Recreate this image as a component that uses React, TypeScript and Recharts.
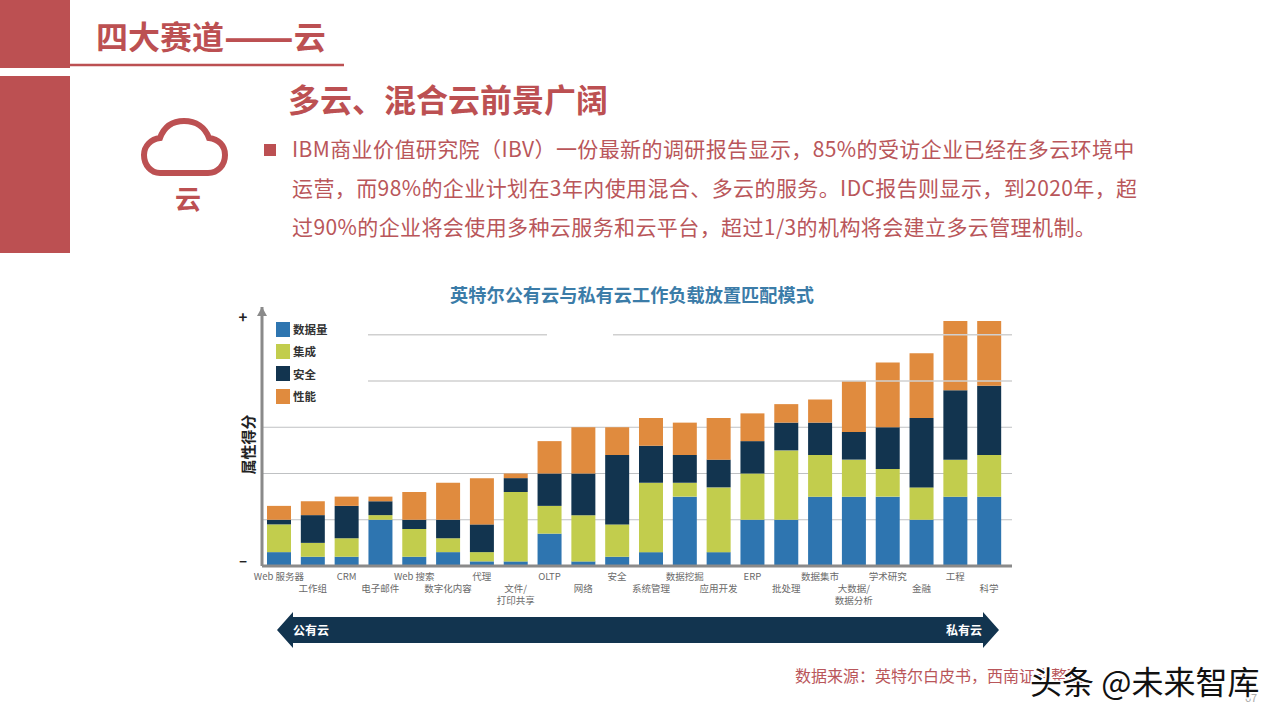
import { Bar, BarChart, CartesianGrid, Legend, ReferenceLine, XAxis, YAxis } from 'recharts';

const categories = [
  'Web 服务器', '工作组', 'CRM', '电子邮件', 'Web 搜索', '数字化内容', '代理', '文件/\n打印共享',
  'OLTP', '网络', '安全', '系统管理', '数据挖掘', '应用开发', 'ERP', '批处理',
  '数据集市', '大数据/\n数据分析', '学术研究', '金融', '工程', '科学',
];
const volume = [3, 2, 2, 10, 2, 3, 1, 1, 7, 1, 2, 3, 15, 3, 10, 10, 15, 15, 15, 10, 15, 15];
const integration = [6, 3, 4, 1, 6, 3, 2, 15, 6, 10, 7, 15, 3, 14, 10, 15, 9, 8, 6, 7, 8, 9];
const security = [1, 6, 7, 3, 2, 4, 6, 3, 7, 9, 15, 8, 6, 6, 7, 6, 7, 6, 9, 15, 15, 15];
const performance = [3, 3, 2, 1, 6, 8, 10, 1, 7, 10, 6, 6, 7, 9, 6, 4, 5, 11, 14, 14, 15, 14];

const rows = categories.map((name, i) => ({
  name,
  volume: volume[i],
  integration: integration[i],
  security: security[i],
  performance: performance[i],
}));

const RED = '#bc5052';
const TEXT_RED = '#b9565a';
const CJK = '"Noto Sans CJK SC", "Noto Sans", sans-serif';

const bodyLines = [
  'IBM商业价值研究院（IBV）一份最新的调研报告显示，85%的受访企业已经在多云环境中',
  '运营，而98%的企业计划在3年内使用混合、多云的服务。IDC报告则显示，到2020年，超',
  '过90%的企业将会使用多种云服务和云平台，超过1/3的机构将会建立多云管理机制。',
];

function CategoryTick({ x, y, payload, index }: any) {
  const lines = String(payload.value).split('\n');
  const start = y + (index % 2 === 0 ? 0 : 12);
  return (
    <text x={x} y={start} textAnchor="middle" fontSize={9.5} fill="#6a6a6a" fontFamily={CJK}>
      {lines.map((l: string, i: number) => (
        <tspan key={l} x={x} dy={i === 0 ? 0 : 12}>{l}</tspan>
      ))}
    </text>
  );
}

function ScoreTick({ x, y, payload }: any) {
  if (payload.value !== 1 && payload.value !== 53.6) return <g />;
  return (
    <text x={x - 11} y={y + 5} textAnchor="middle" fontSize={15} fontWeight={700} fill="#222" fontFamily={CJK}>
      {payload.value === 53.6 ? '+' : '–'}
    </text>
  );
}

function ScoreLabel({ viewBox }: any) {
  const cx = viewBox.x + 25;
  const cy = viewBox.y + viewBox.height / 2 + 8;
  return (
    <text
      x={cx}
      y={cy}
      transform={`rotate(-90 ${cx} ${cy})`}
      textAnchor="middle"
      dominantBaseline="central"
      fontSize={15}
      fontWeight={700}
      fill="#222"
      fontFamily={CJK}
    >
      属性得分
    </text>
  );
}

function GridLine40({ x2, y1 }: any) {
  return <line x1={368} x2={x2} y1={y1} y2={y1} stroke="#d0d0d0" strokeWidth={1.5} />;
}

function GridLine50({ x2, y1 }: any) {
  return (
    <g stroke="#d0d0d0" strokeWidth={1.5}>
      <line x1={368} x2={547} y1={y1} y2={y1} />
      <line x1={613} x2={x2} y1={y1} y2={y1} />
    </g>
  );
}

function KeyList({ payload }: any) {
  return (
    <div>
      {(payload ?? []).map((p: any) => (
        <div key={p.value} style={{ display: 'flex', alignItems: 'center', height: 22.3, fontFamily: CJK, fontSize: 11.5, fontWeight: 700, color: '#333' }}>
          <span style={{ width: 14, height: 15, background: p.color, marginRight: 3 }} />
          {p.value}
        </div>
      ))}
    </div>
  );
}

function Slide() {
  return (
    <svg width={1280} height={720} style={{ position: 'absolute', left: 0, top: 0 }}>
      <rect x={0} y={0} width={70} height={68} fill={RED} />
      <rect x={0} y={76} width={70} height={177} fill={RED} />
      <line x1={70} x2={344} y1={65} y2={65} stroke={RED} strokeWidth={2.5} />
      <text x={96} y={49} fontSize={32} fontWeight={700} fill={RED} fontFamily={CJK}>
        四大赛道
        <tspan fontSize={41} dy={3}>——</tspan>
        <tspan dy={-3}>云</tspan>
      </text>
      <text x={288} y={112} fontSize={32} fontWeight={700} fill={RED} fontFamily={CJK}>多云、混合云前景广阔</text>
      <path
        d="M160 173 H208 C218 173 225 165 225 155 C225 145 218 139 209 138 C205 127 196 121 184 121 C172 121 164 127 160 138 C151 139 144 146 144 155 C144 165 151 173 160 173 Z"
        fill="none"
        stroke={RED}
        strokeWidth={6}
      />
      <text x={188} y={209} textAnchor="middle" fontSize={26} fontWeight={700} fill={RED} fontFamily={CJK}>云</text>
      <rect x={264} y={144} width={12} height={12} fill={RED} />
      {bodyLines.map((l, i) => (
        <text key={l} x={292} y={157 + i * 39} fontSize={21} letterSpacing={0.4} fill={TEXT_RED} fontFamily={CJK}>{l}</text>
      ))}
      <text x={632} y={302} textAnchor="middle" fontSize={18.2} fontWeight={700} fill="#3b7ca8" fontFamily={CJK}>
        英特尔公有云与私有云工作负载放置匹配模式
      </text>
      <polygon points="262,307 257,316 267,316" fill="#8a8a8a" />
      <polygon
        points="277,630 293,612 293,617 983,617 983,612 999,630 983,648 983,643 293,643 293,648"
        fill="#12344f"
      />
      <text x={293} y={635} fontSize={12} fontWeight={700} fill="#fff" fontFamily={CJK}>公有云</text>
      <text x={946} y={635} fontSize={12} fontWeight={700} fill="#fff" fontFamily={CJK}>私有云</text>
      <text x={795} y={682} fontSize={16} fill={TEXT_RED} fontFamily={CJK}>数据来源：英特尔白皮书，西南证券整理</text>
      <text x={1245} y={702} fontSize={11} fill="#aaa" fontFamily={CJK}>67</text>
      <text x={1030} y={694} fontSize={32} fill="#111" stroke="#fff" strokeWidth={3} paintOrder="stroke" fontFamily={CJK}>头条 @未来智库</text>
    </svg>
  );
}

export default function App() {
  return (
    <div style={{ position: 'absolute', left: 0, top: 0, width: 1280, height: 720, background: '#fff', overflow: 'hidden' }}>
      <Slide />
      <div style={{ position: 'absolute', left: 0, top: 0 }}>
        <BarChart
          width={1280}
          height={720}
          data={rows}
          barSize={24}
          margin={{ top: 307, right: 268, bottom: 94, left: 222 }}
        >
          <CartesianGrid vertical={false} horizontalValues={[10, 20, 30]} stroke="#bfc1c3" strokeWidth={1.2} />
          <ReferenceLine y={40} shape={GridLine40} />
          <ReferenceLine y={50} shape={GridLine50} />
          <XAxis
            dataKey="name"
            height={60}
            interval={0}
            padding={{ left: 0, right: 6 }}
            tickLine={false}
            axisLine={{ stroke: '#8a8a8a', strokeWidth: 3 }}
            tick={CategoryTick}
            tickMargin={8}
          />
          <YAxis
            width={40}
            domain={[0, 56]}
            ticks={[1, 10, 20, 30, 40, 50, 53.6]}
            tickLine={false}
            axisLine={{ stroke: '#8a8a8a', strokeWidth: 3 }}
            tick={ScoreTick}
            label={{ content: ScoreLabel }}
          />
          <Legend
            layout="vertical"
            align="center"
            verticalAlign="middle"
            itemSorter={null}
            content={KeyList}
            wrapperStyle={{ left: 276, top: 318, width: 80 }}
          />
          <Bar dataKey="volume" name="数据量" stackId="a" fill="#2e75b0" isAnimationActive={false} />
          <Bar dataKey="integration" name="集成" stackId="a" fill="#c2cd4d" isAnimationActive={false} />
          <Bar dataKey="security" name="安全" stackId="a" fill="#12344f" isAnimationActive={false} />
          <Bar dataKey="performance" name="性能" stackId="a" fill="#e08b3e" isAnimationActive={false} />
        </BarChart>
      </div>
    </div>
  );
}
